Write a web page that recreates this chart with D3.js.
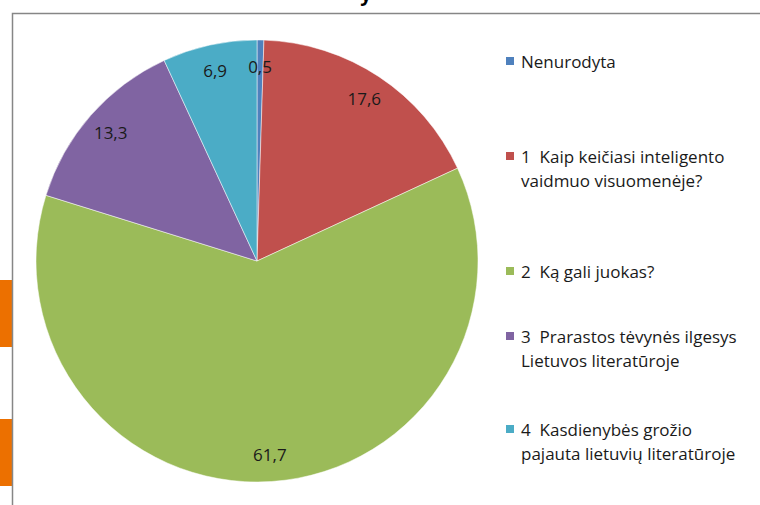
<!DOCTYPE html>
<html>
<head>
<meta charset="utf-8">
<script src="https://cdn.jsdelivr.net/npm/d3@7"></script>
<style>
	body { margin: 0; background: #fff; }
	svg { display: block; font-family: 'Open Sans', Lato, sans-serif; }
	text { white-space: pre; }
</style>
</head>
<body>
<div id="chart"></div>
<script>
let categories = [
	['Nenurodyta'],
	['1  Kaip keičiasi inteligento', 'vaidmuo visuomenėje?'],
	['2  Ką gali juokas?'],
	['3  Prarastos tėvynės ilgesys', 'Lietuvos literatūroje'],
	['4  Kasdienybės grožio', 'pajauta lietuvių literatūroje']
];
let values = [0.5, 17.6, 61.7, 13.3, 6.9];
let valueLabels = ['0,5', '17,6', '61,7', '13,3', '6,9'];
let colors = ['#4f81bd', '#c0504d', '#9bbb59', '#8064a2', '#4bacc6'];
// legend row positions (first line baseline)
let legendY = [68, 163, 278, 343, 436];

let width = 760,
	height = 505;
let cx = 257,
	cy = 261,
	radius = 221;

let svg = d3.select('#chart').append('svg').attr('width', width).attr('height', height);

// orange bits of the slide behind the chart
svg.append('rect').attr('x', 0).attr('y', 280).attr('width', 12).attr('height', 67).attr('fill', '#ec7000');
svg.append('rect').attr('x', 0).attr('y', 419).attr('width', 12).attr('height', 67).attr('fill', '#ec7000');

// chart frame
svg.append('path')
	.attr('d', 'M12.5,' + height + 'V13.5H' + width)
	.attr('fill', 'none')
	.attr('stroke', '#868686')
	.attr('stroke-width', 1.5);

// title, mostly above the picture
svg.append('text').attr('x', 366).attr('y', 1).attr('text-anchor', 'middle')
	.style('font-size', '20px').style('font-weight', 'bold').text('y');

let pie = d3.pie().sort(null).value((d) => d);
let arcs = pie(values);
let arc = d3.arc().innerRadius(0).outerRadius(radius);
let labelArc = d3.arc().innerRadius(radius * 0.88).outerRadius(radius * 0.88);

let g = svg.append('g').attr('transform', 'translate(' + cx + ',' + cy + ')');

g.selectAll('path')
	.data(arcs)
	.enter()
	.append('path')
	.attr('d', arc)
	.attr('fill', (d, i) => colors[i])
	.attr('stroke', '#fff')
	.attr('stroke-width', 0.5);

g.selectAll('text')
	.data(arcs)
	.enter()
	.append('text')
	.attr('transform', (d) => 'translate(' + labelArc.centroid(d) + ')')
	.attr('text-anchor', 'middle')
	.attr('dy', '0.36em')
	.style('font-size', '17px')
	.style('fill', '#1a1a1a')
	.text((d, i) => valueLabels[i]);

// legend
let legend = svg.append('g');
let items = legend.selectAll('g').data(categories).enter().append('g');
items.append('rect')
	.attr('x', 506)
	.attr('y', (d, i) => legendY[i] - 11)
	.attr('width', 8)
	.attr('height', 8)
	.attr('fill', (d, i) => colors[i]);
items.append('text')
	.attr('x', 521)
	.attr('y', (d, i) => legendY[i])
	.style('font-size', '17px')
	.style('fill', '#1a1a1a')
	.selectAll('tspan')
	.data((d) => d)
	.enter()
	.append('tspan')
	.attr('x', 521)
	.attr('dy', (d, j) => (j == 0 ? 0 : 24))
	.text((d) => d);
</script>
</body>
</html>
